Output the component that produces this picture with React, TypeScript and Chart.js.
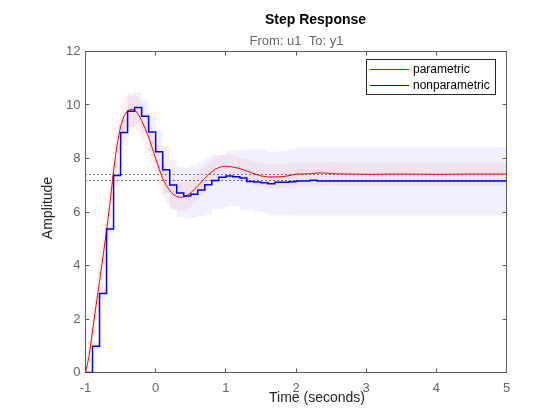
import React, { useEffect, useRef } from "react";
import { Chart, registerables } from "chart.js";

Chart.register(...registerables);

const FONT = '"Liberation Sans", Arial, Helvetica, sans-serif';

// ---- Text ----
const titleText = "Step Response";
const subtitleText = "From: u1  To: y1";
const xAxisTitle = "Time (seconds)";
const yAxisTitle = "Amplitude";
const paramLabel = "parametric";
const nonparamLabel = "nonparametric";

// ---- Ticks ----
const xTicks = [-1, 0, 1, 2, 3, 4, 5];
const yTicks = [0, 2, 4, 6, 8, 10, 12];

// ---- Parametric (red) step response ----
const paramTimes = [
  -1, -0.95, -0.9, -0.85, -0.8, -0.75, -0.7, -0.65, -0.6, -0.55, -0.5, -0.45, -0.4, -0.35, -0.3, -0.25, -0.2,
  -0.15, -0.1, -0.05, 0, 0.05, 0.1, 0.15, 0.2, 0.25, 0.3, 0.35, 0.4, 0.45, 0.5, 0.55, 0.6, 0.65, 0.7, 0.75,
  0.8, 0.85, 0.9, 0.95, 1.0, 1.1, 1.2, 1.3, 1.4, 1.5, 1.6, 1.7, 1.8, 1.9, 2.0, 2.1, 2.2, 2.3, 2.4, 2.5, 2.75,
  3.0, 3.5, 4.0, 4.5, 5.0,
];
const paramValues = [
  0, 0.6, 1.55, 2.5, 3.4, 4.35, 5.3, 6.35, 7.55, 8.5, 9.2, 9.6, 9.78, 9.84, 9.82, 9.66, 9.42, 9.12, 8.8, 8.4,
  8.0, 7.6, 7.25, 7.0, 6.8, 6.66, 6.58, 6.55, 6.56, 6.63, 6.72, 6.84, 6.98, 7.12, 7.26, 7.39, 7.5, 7.6, 7.66,
  7.7, 7.71, 7.68, 7.62, 7.53, 7.43, 7.35, 7.31, 7.31, 7.32, 7.36, 7.42, 7.42, 7.43, 7.46, 7.46, 7.43, 7.42,
  7.41, 7.42, 7.41, 7.42, 7.42,
];
const paramFinal = 7.42;

// ---- Parametric confidence band (pink) ----
const paramBandTimes = [
  -1, -0.9, -0.8, -0.7, -0.6, -0.5, -0.4, -0.3, -0.2, -0.1, 0, 0.1, 0.2, 0.3, 0.4, 0.5, 0.6, 0.7, 0.8, 0.9,
  1.0, 1.1, 1.2, 1.3, 1.4, 1.5, 1.6, 1.7, 1.8, 1.9, 2.0, 2.5, 3, 4, 5,
];
const paramUpper = [
  0.05, 2.2, 4.2, 6.3, 8.4, 9.9, 10.45, 10.45, 10.1, 9.5, 8.7, 7.9, 7.4, 7.15, 7.1, 7.25, 7.5, 7.75, 7.95, 8.1,
  8.15, 8.12, 8.05, 7.98, 7.9, 7.83, 7.8, 7.8, 7.8, 7.82, 7.85, 7.87, 7.85, 7.85, 7.85,
];
const paramLower = [
  0, 1.0, 2.6, 4.4, 6.8, 8.5, 9.15, 9.2, 8.75, 8.1, 7.3, 6.6, 6.2, 6.02, 6.02, 6.2, 6.45, 6.75, 7.0, 7.15,
  7.22, 7.2, 7.15, 7.08, 7.0, 6.92, 6.88, 6.88, 6.88, 6.9, 6.94, 6.98, 6.97, 6.97, 6.97,
];

// ---- Nonparametric (blue) stair response (value held from each time to the next) ----
const nonparamTimes = [
  -1, -0.9, -0.8, -0.7, -0.6, -0.5, -0.4, -0.3, -0.2, -0.1, 0, 0.1, 0.2, 0.3, 0.4, 0.5, 0.6, 0.7, 0.8, 0.9,
  1.0, 1.1, 1.2, 1.3, 1.4, 1.5, 1.6, 1.7, 1.8, 1.9, 2.0, 2.1, 2.2, 2.3, 5.0,
];
const nonparamValues = [
  0, 0.98, 2.95, 5.36, 7.36, 8.97, 9.77, 9.91, 9.58, 8.99, 8.25, 7.58, 7.01, 6.71, 6.6, 6.66, 6.82, 7.02, 7.18,
  7.3, 7.35, 7.32, 7.27, 7.14, 7.12, 7.09, 7.06, 7.11, 7.11, 7.13, 7.16, 7.16, 7.19, 7.16, 7.16,
];
const nonparamUpper = [
  0.05, 1.15, 3.2, 5.65, 7.75, 9.45, 10.35, 10.5, 10.2, 9.7, 9.05, 8.45, 7.95, 7.7, 7.65, 7.75, 7.9, 8.05, 8.14,
  8.14, 8.3, 8.3, 8.3, 8.35, 8.35, 8.35, 8.23, 8.27, 8.3, 8.36, 8.42, 8.45, 8.45, 8.45, 8.45,
];
const nonparamLower = [
  0, 0.82, 2.7, 5.05, 6.95, 8.5, 9.2, 9.3, 8.95, 8.3, 7.45, 6.7, 6.1, 5.8, 5.76, 5.78, 5.85, 5.9, 6.1, 6.1,
  6.22, 6.22, 6.1, 6.08, 6.0, 5.95, 5.9, 5.88, 5.88, 5.87, 5.87, 5.87, 5.87, 5.87, 5.87,
];
const nonparamFinal = 7.16;

const RED = "#ff0000";
const BLUE = "#0000ff";

const pts = (xs: number[], ys: number[]) => xs.map((x, i) => ({ x, y: ys[i] }));

const snap = (v: number) => Math.round(v - 0.5) + 0.5;

const decorPlugin = {
  id: "matlabDecor",
  beforeDatasetsDraw(chart: any) {
    const { ctx, chartArea: a, scales } = chart;
    const xs = scales.x;
    const ys = scales.y;
    ctx.save();
    // steady-state dotted lines
    ctx.strokeStyle = "#000000";
    ctx.lineWidth = 1;
    ctx.setLineDash([1, 3]);
    [paramFinal, nonparamFinal].forEach((v) => {
      const py = snap(ys.getPixelForValue(v));
      ctx.beginPath();
      ctx.moveTo(xs.getPixelForValue(xTicks[0]), py);
      ctx.lineTo(xs.getPixelForValue(xTicks[xTicks.length - 1]), py);
      ctx.stroke();
    });
    ctx.setLineDash([]);
    // axes box
    ctx.strokeStyle = "#5a5a5a";
    ctx.strokeRect(a.left, a.top, a.right - a.left, a.bottom - a.top);
    const tl = 4;
    ctx.beginPath();
    xTicks.forEach((v) => {
      const px = snap(xs.getPixelForValue(v));
      ctx.moveTo(px, a.bottom);
      ctx.lineTo(px, a.bottom - tl);
      ctx.moveTo(px, a.top);
      ctx.lineTo(px, a.top + tl);
    });
    yTicks.forEach((v) => {
      const py = snap(ys.getPixelForValue(v));
      ctx.moveTo(a.left, py);
      ctx.lineTo(a.left + tl, py);
      ctx.moveTo(a.right, py);
      ctx.lineTo(a.right - tl, py);
    });
    ctx.stroke();
    ctx.restore();
  },
  afterDraw(chart: any) {
    const { ctx } = chart;
    ctx.save();
    ctx.setLineDash([]);
    ctx.textAlign = "center";
    ctx.textBaseline = "middle";
    // title
    ctx.fillStyle = "#000000";
    ctx.font = `bold 14px ${FONT}`;
    ctx.fillText(titleText, 315.5, 20);
    // subtitle
    ctx.fillStyle = "#666666";
    ctx.font = `13px ${FONT}`;
    ctx.fillText(subtitleText, 296.5, 41);
    // axis titles
    ctx.fillStyle = "#262626";
    ctx.font = `14px ${FONT}`;
    ctx.fillText(xAxisTitle, 317, 398.5);
    ctx.save();
    ctx.translate(48, 208);
    ctx.rotate(-Math.PI / 2);
    ctx.fillText(yAxisTitle, 0, 0);
    ctx.restore();
    // legend
    const lx = 366.5, ly = 59.5, lw = 129, lh = 35;
    ctx.fillStyle = "#ffffff";
    ctx.fillRect(lx, ly, lw, lh);
    ctx.strokeStyle = "#262626";
    ctx.lineWidth = 1;
    ctx.strokeRect(lx, ly, lw, lh);
    const items = [
      { label: paramLabel, color: RED, y: 69 },
      { label: nonparamLabel, color: BLUE, y: 85 },
    ];
    ctx.textAlign = "left";
    ctx.font = `12px ${FONT}`;
    items.forEach((it) => {
      ctx.fillStyle = it.color;
      ctx.fillRect(370, it.y, 39, 1);
      ctx.fillStyle = "#000000";
      ctx.fillText(it.label, 413, it.y + 0.5);
    });
    ctx.restore();
  },
};

export default function App() {
  const ref = useRef<HTMLCanvasElement | null>(null);

  useEffect(() => {
    if (!ref.current) return;
    const noPoint = { pointRadius: 0, pointHoverRadius: 0 };
    const chart = new Chart(ref.current, {
      type: "line",
      data: {
        datasets: [
          {
            label: "nonparametric lower",
            data: pts(nonparamTimes, nonparamLower),
            borderWidth: 0,
            borderColor: "rgba(0,0,0,0)",
            stepped: "before",
            fill: false,
            order: 7,
            ...noPoint,
          },
          {
            label: "nonparametric upper",
            data: pts(nonparamTimes, nonparamUpper),
            borderWidth: 0,
            borderColor: "rgba(0,0,0,0)",
            backgroundColor: "rgba(0,0,255,0.06)",
            stepped: "before",
            fill: "-1",
            order: 6,
            ...noPoint,
          },
          {
            label: "parametric lower",
            data: pts(paramBandTimes, paramLower),
            borderWidth: 0,
            borderColor: "rgba(0,0,0,0)",
            fill: false,
            order: 5,
            ...noPoint,
          },
          {
            label: "parametric upper",
            data: pts(paramBandTimes, paramUpper),
            borderWidth: 0,
            borderColor: "rgba(0,0,0,0)",
            backgroundColor: "rgba(255,0,0,0.06)",
            fill: "-1",
            order: 4,
            ...noPoint,
          },
          {
            label: paramLabel,
            data: pts(paramTimes, paramValues),
            borderColor: RED,
            borderWidth: 1,
            fill: false,
            tension: 0,
            order: 1,
            ...noPoint,
          },
          {
            label: nonparamLabel,
            data: pts(nonparamTimes, nonparamValues),
            borderColor: BLUE,
            borderWidth: 1.5,
            stepped: "before",
            fill: false,
            order: 0,
            ...noPoint,
          },
        ],
      },
      options: {
        responsive: false,
        animation: false,
        events: [],
        layout: { padding: { top: 51.5, right: 53.5, left: 0, bottom: 0 } },
        plugins: {
          legend: { display: false },
          title: { display: false },
          tooltip: { enabled: false },
          filler: { drawTime: "beforeDatasetsDraw", propagate: false },
        },
        scales: {
          x: {
            type: "linear",
            min: xTicks[0],
            max: xTicks[xTicks.length - 1],
            grid: { display: false, drawTicks: false },
            border: { display: false },
            ticks: {
              color: "#666666",
              font: { size: 13, family: FONT },
              padding: 8,
              maxRotation: 0,
              autoSkip: false,
            },
            afterBuildTicks: (s: any) => {
              s.ticks = xTicks.map((v) => ({ value: v }));
            },
            afterFit: (s: any) => {
              s.height = 47.5;
            },
          },
          y: {
            type: "linear",
            min: yTicks[0],
            max: yTicks[yTicks.length - 1],
            grid: { display: false, drawTicks: false },
            border: { display: false },
            ticks: {
              color: "#666666",
              font: { size: 13, family: FONT },
              padding: 5,
              autoSkip: false,
            },
            afterBuildTicks: (s: any) => {
              s.ticks = yTicks.map((v) => ({ value: v }));
            },
            afterFit: (s: any) => {
              s.width = 85.5;
            },
          },
        },
      },
      plugins: [decorPlugin],
    } as any);
    return () => chart.destroy();
  }, []);

  return (
    <div style={{ position: "fixed", left: 0, top: 0, width: 560, height: 420, background: "#ffffff" }}>
      <canvas ref={ref} width={560} height={420} style={{ display: "block", width: 560, height: 420 }} />
    </div>
  );
}
